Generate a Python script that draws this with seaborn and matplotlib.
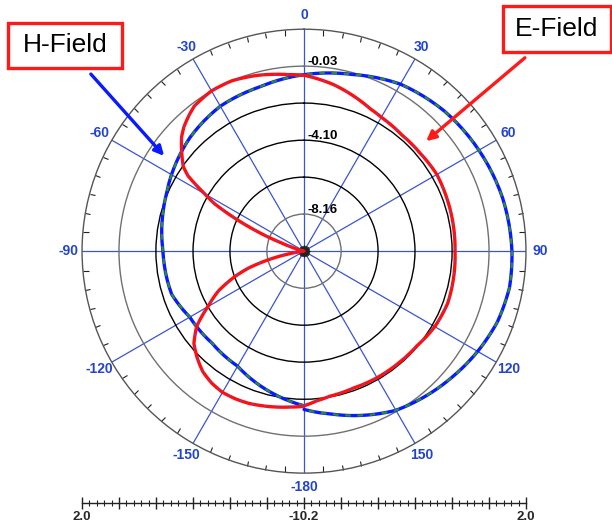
import numpy as np
import pandas as pd
import matplotlib
matplotlib.use("Agg")
import matplotlib.pyplot as plt
import seaborn as sns
from matplotlib.patches import Rectangle
from matplotlib.transforms import offset_copy

# radiation pattern, dB vs azimuth (degrees, 0 = up, clockwise)
e_angle = [-180, -175, -170, -165, -160, -155, -150, -145, -140, -135, -130, -125,
           -120, -115, -110, -107, -103, -100, -97, -90, -80, -75, -72, -70, -66,
           -62, -60, -57, -55, -51, -47, -44, -40, -37, -30, -23, -15, -5, 0, 10,
           20, 25, 30, 40, 50, 60, 70, 80, 90, 100, 110, 120, 130, 140, 150, 160,
           170, 175, 180]
e_gain = [-1.67, -1.6, -1.5, -1.4, -1.3, -1.25, -1.24, -1.35, -1.55, -1.9, -2.3, -3.0,
          -4.1, -5.0, -6.2, -7.0, -8.4, -9.4, -10.2, -10.2, -10.2, -10.0, -9.5, -8.9, -6.8,
          -4.6, -3.9, -2.6, -2.1, -1.55, -1.0, -0.7, -0.4, -0.2, -0.03, -0.03, -0.2, -0.46, -0.53, -0.9,
          -1.35, -1.57, -1.7, -1.85, -1.85, -1.77, -1.83, -1.87, -1.9, -1.85, -1.8, -1.9, -2.1, -2.15, -2.17, -2.2,
          -2.1, -1.95, -1.7]

h_angle = [-180, -165, -150, -135, -120, -108, -90, -75, -67, -60, -45, -30, -15, 0,
           15, 30, 45, 60, 75, 90, 100, 110, 120, 130, 140, 150, 160, 170, 180]
h_gain = [-1.7, -2.3, -2.9, -3.05, -2.95, -2.55, -2.45, -2.17, -2.0, -1.79, -1.35, -1.0, -0.85, -0.5,
          -0.14, 0.4, 0.7, 0.9, 1.1, 1.23, 1.27, 1.12, 0.82, 0.5, 0.2, -0.1, -0.6, -1.1, -1.5]

r_min, r_max = -10.2, 2.0
ring_levels = [-8.16, -6.13, -4.10, -2.06, -0.03]
ring_colors = ["#707070", "#000000", "#000000", "#000000", "#707070"]
label_levels = [-8.16, -4.10, -0.03]
theta_ticks = [0, 30, 60, 90, 120, 150, 180, 210, 240, 270, 300, 330]
theta_labels = ["0", "30", "60", "90", "120", "150", "-180", "-150", "-120", "-90", "-60", "-30"]

sns.set_style("white")
plt.rcParams["font.family"] = ["Liberation Sans", "DejaVu Sans"]

W, H = 612, 531
fig = plt.figure(figsize=(W / 100, H / 100), dpi=100)
ax = fig.add_axes([0.134, 0.109, 0.7255, 0.836], projection="polar")
ax.set_theta_zero_location("N")
ax.set_theta_direction(-1)

e_df = pd.DataFrame({"theta": np.radians(e_angle), "gain": e_gain})
h_df = pd.DataFrame({"theta": np.radians(h_angle), "gain": h_gain})

# H-field: blue with green dashes on top
sns.lineplot(data=h_df, x="theta", y="gain", ax=ax, color="#0a1aff", lw=2.4,
             estimator=None, sort=False)
sns.lineplot(data=h_df, x="theta", y="gain", ax=ax, color="#2e8b3a", lw=1.6,
             estimator=None, sort=False, linestyle=(0, (2.5, 3)))
# E-field: red with purple dots on top
sns.lineplot(data=e_df, x="theta", y="gain", ax=ax, color="#ff1010", lw=2.4,
             estimator=None, sort=False)
sns.lineplot(data=e_df, x="theta", y="gain", ax=ax, color="#8040a0", lw=1.2,
             estimator=None, sort=False, linestyle=(0, (1.5, 6)))
# draw segments as polar arcs rather than straight chords
for line in ax.get_lines():
    line.get_path()._interpolation_steps = 12

ax.set_ylim(r_min, r_max)
ax.set_xlabel("")
ax.set_ylabel("")

# rings
ax.set_yticks(ring_levels)
ax.set_yticklabels([])
ax.yaxis.grid(True, lw=1.0)
for gl, c in zip(ax.yaxis.get_gridlines(), ring_colors):
    gl.set_color(c)
ax.tick_params(axis="y", length=0)

# spokes and angle labels
ax.set_xticks(np.radians(theta_ticks))
ax.set_xticklabels(theta_labels)
ax.xaxis.grid(True, color="#3a55d0", lw=0.9)
ax.set_xticks(np.radians(np.arange(0, 360, 5)), minor=True)
ax.tick_params(axis="x", which="both", bottom=True, top=True)
ax.tick_params(axis="x", which="major", length=0, pad=3, labelcolor="#2244cc", labelsize=10)
ax.tick_params(axis="x", which="minor", length=4, direction="in", color="#222222", width=0.8)
for lbl in ax.get_xticklabels():
    lbl.set_fontweight("bold")
ax.spines["polar"].set_color("#555555")
ax.spines["polar"].set_linewidth(1.0)

off = offset_copy(ax.transData, fig=fig, x=3, y=1, units="dots")
for lv in label_levels:
    ax.text(0, lv, f"{lv:.2f}", transform=off, ha="left", va="baseline",
            fontsize=9.5, fontweight="bold", color="black")

# linear scale below the polar plot
ax2 = fig.add_axes([0.134, 0.0527, 0.7255, 0.001])
span = r_max - r_min
ax2.set_xlim(-span, span)
ax2.set_ylim(0, 1)
major = np.linspace(-span, span, 13)
ax2.set_xticks(major)
ax2.set_xticklabels(["2.0"] + [""] * 5 + ["-10.2"] + [""] * 5 + ["2.0"])
ax2.set_xticks(np.linspace(-span, span, 61), minor=True)
ax2.set_yticks([])
for s in ["top", "left", "right"]:
    ax2.spines[s].set_visible(False)
ax2.spines["bottom"].set_color("#222222")
ax2.spines["bottom"].set_linewidth(1.0)
ax2.tick_params(axis="x", which="both", bottom=True)
ax2.tick_params(axis="x", which="major", direction="inout", length=8, width=1.0,
                color="#222222", pad=2, labelsize=9.5)
ax2.tick_params(axis="x", which="minor", direction="inout", length=4, width=0.8,
                color="#222222")
for lbl in ax2.get_xticklabels():
    lbl.set_fontweight("bold")


def fx(x, y):
    return x / W, (H - y) / H


# callout boxes
for (x0, y0, x1, y1), txt in [((8, 23, 122, 68), "H-Field"), ((503, 6, 611, 52), "E-Field")]:
    bx, by = fx(x0, y1)
    fig.add_artist(Rectangle((bx, by), (x1 - x0) / W, (y1 - y0) / H, transform=fig.transFigure,
                             facecolor="white", edgecolor="#ff1a1a", lw=2.4))
    cx, cy = fx((x0 + x1) / 2, (y0 + y1) / 2)
    fig.text(cx, cy, txt, ha="center", va="center", fontsize=19, color="black")

ax.annotate("", xy=(166, H - 158), xytext=(89, H - 72), xycoords="figure pixels",
            textcoords="figure pixels", annotation_clip=False,
            arrowprops=dict(arrowstyle="-|>", color="#0a1aff", lw=2.4, mutation_scale=14))
ax.annotate("", xy=(424, H - 143), xytext=(527, H - 56), xycoords="figure pixels",
            textcoords="figure pixels", annotation_clip=False,
            arrowprops=dict(arrowstyle="-|>", color="#ff1a1a", lw=2.4, mutation_scale=14))

fig.savefig("out.png", dpi=100, facecolor="white")
